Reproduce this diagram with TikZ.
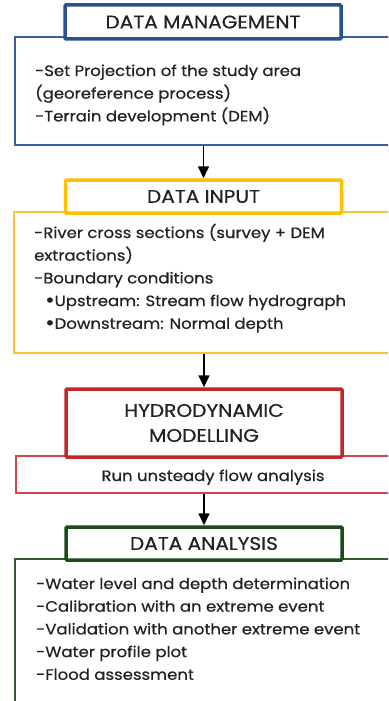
\documentclass[tikz,border=0pt]{standalone}
\usepackage{fontspec}
\setmainfont{Poppins}[FakeStretch=1.1, FakeBold=0.5]
\usetikzlibrary{arrows.meta}
\definecolor{mblue}{HTML}{2B5090}
\definecolor{mblueb}{HTML}{3A5FA0}
\definecolor{myellow}{HTML}{FFC000}
\definecolor{myellowb}{HTML}{F8C23A}
\definecolor{mred}{HTML}{C0282B}
\definecolor{mredb}{HTML}{D24545}
\definecolor{mgreen}{HTML}{1B4A1B}
\definecolor{mgreenb}{HTML}{2E5E2E}
\definecolor{txt}{HTML}{222222}
\newcommand{\bigbul}{{\fontsize{21}{22.7}\selectfont\raisebox{-1pt}{•}}}
\begin{document}
\begin{tikzpicture}[x=1pt,y=-1pt,
  head/.style={draw, line width=3.5pt, fill=white, minimum width=276pt, inner sep=0pt,
    rounded corners=1pt, text=txt, align=center, font=\fontsize{18.3}{25}\selectfont},
  body/.style={draw, line width=1.3pt, fill=white, inner sep=0pt},
  btext/.style={font=\fontsize{15}{22.7}\selectfont, text=txt, anchor=base west, inner sep=0pt},
  ctext/.style={font=\fontsize{15}{22.7}\selectfont, text=txt, anchor=base, inner sep=0pt},
  arr/.style={-{Triangle[length=12pt,width=11pt]}, line width=1.6pt, black}]
\clip (0,0) rectangle (388,701);
\fill[white] (0,0) rectangle (388,701);

% block 1
\node[body, draw=mblueb, minimum width=385pt, minimum height=108pt] (b1) at (207.5,91) {};
\node[head, draw=mblue, minimum height=34pt] (h1) at (203,22) {DATA MANAGEMENT};
\node[btext] (t1) at (35,76) {\vtop{\hbox{-Set Projection of the study area}\hbox{(georeference process)}\hbox{-Terrain development (DEM)}}};

% block 2
\node[body, draw=myellowb, minimum width=386pt, minimum height=141pt] (b2) at (207,282.5) {};
\node[head, draw=myellow, minimum height=33pt] (h2) at (203.5,196.5) {DATA INPUT};
\node[btext] (t2) at (34,238) {\vtop{\hbox{-River cross sections (survey + DEM}\hbox{extractions)}\hbox{-Boundary conditions}\hbox{\hskip 11pt \bigbul Upstream: Stream flow hydrograph}\hbox{\hskip 11pt \bigbul Downstream: Normal depth}}};

% block 3
\node[body, draw=mredb, minimum width=384pt, minimum height=37pt] (b3) at (208,474.5) {};
\node[head, draw=mred, minimum height=68pt] (h3) at (204,423) {HYDRODYNAMIC\\MODELLING};
\node[ctext] (t3) at (213,481) {Run unsteady flow analysis};

% block 4
\node[body, draw=mgreenb, minimum width=385pt, minimum height=160pt] (b4) at (207.5,639) {};
\node[head, draw=mgreen, minimum height=33pt] (h4) at (204,543.5) {DATA ANALYSIS};
\node[btext] (t4) at (36,589) {\vtop{\hbox{-Water level and depth determination}\hbox{-Calibration with an extreme event}\hbox{-Validation with another extreme event}\hbox{-Water profile plot}\hbox{-Flood assessment}}};

% arrows
\draw[arr] (h2.north |- b1.south) -- (h2.north);
\draw[arr] (h3.north |- b2.south) -- (h3.north);
\draw[arr] (h4.north |- b3.south) -- (h4.north);
\end{tikzpicture}
\end{document}
